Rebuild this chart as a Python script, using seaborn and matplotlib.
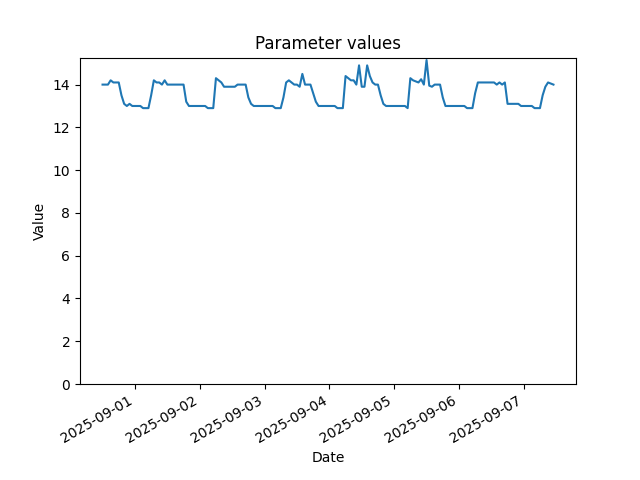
import pandas as pd
import matplotlib
matplotlib.use('Agg')
import matplotlib.pyplot as plt
import seaborn as sns

# hourly readings, starting 2025-08-31 12:00
start_time = '2025-08-31 12:00'
values = [
    # 08-31 12:00 - 23:00
    14.0, 14.0, 14.0, 14.2, 14.1, 14.1, 14.1, 13.5, 13.1, 13.0, 13.1, 13.0,
    # 09-01
    13.0, 13.0, 13.0, 12.9, 12.9, 12.9, 13.5, 14.2, 14.1, 14.1, 14.0, 14.2,
    14.0, 14.0, 14.0, 14.0, 14.0, 14.0, 14.0, 13.2, 13.0, 13.0, 13.0, 13.0,
    # 09-02
    13.0, 13.0, 13.0, 12.9, 12.9, 12.9, 14.3, 14.2, 14.1, 13.9, 13.9, 13.9,
    13.9, 13.9, 14.0, 14.0, 14.0, 14.0, 13.4, 13.1, 13.0, 13.0, 13.0, 13.0,
    # 09-03
    13.0, 13.0, 13.0, 13.0, 12.9, 12.9, 12.9, 13.4, 14.1, 14.2, 14.1, 14.0,
    14.0, 13.9, 14.5, 14.0, 14.0, 14.0, 13.6, 13.2, 13.0, 13.0, 13.0, 13.0,
    # 09-04
    13.0, 13.0, 13.0, 12.9, 12.9, 12.9, 14.4, 14.3, 14.2, 14.2, 14.0, 14.9,
    13.9, 13.9, 14.9, 14.4, 14.1, 14.0, 14.0, 13.5, 13.1, 13.0, 13.0, 13.0,
    # 09-05
    13.0, 13.0, 13.0, 13.0, 13.0, 12.9, 14.3, 14.2, 14.15, 14.1, 14.25, 14.0,
    15.15, 13.95, 13.9, 14.0, 14.0, 14.0, 13.4, 13.0, 13.0, 13.0, 13.0, 13.0,
    # 09-06
    13.0, 13.0, 13.0, 12.9, 12.9, 12.9, 13.6, 14.1, 14.1, 14.1, 14.1, 14.1,
    14.1, 14.1, 14.0, 14.1, 14.0, 14.1, 13.1, 13.1, 13.1, 13.1, 13.1, 13.0,
    # 09-07 00:00 - 11:00
    13.0, 13.0, 13.0, 13.0, 12.9, 12.9, 12.9, 13.5, 13.9, 14.1, 14.05, 14.0,
]

df = pd.DataFrame({
    'date': pd.date_range(start_time, periods=len(values), freq='h'),
    'value': values,
})

fig, ax = plt.subplots(figsize=(6.4, 4.8), dpi=100)
sns.lineplot(x='date', y='value', data=df, ax=ax)
ax.set_ylim(bottom=0)
ax.set_title('Parameter values')
ax.set_xlabel('Date')
ax.set_ylabel('Value')
fig.autofmt_xdate()

fig.savefig('out.png')
